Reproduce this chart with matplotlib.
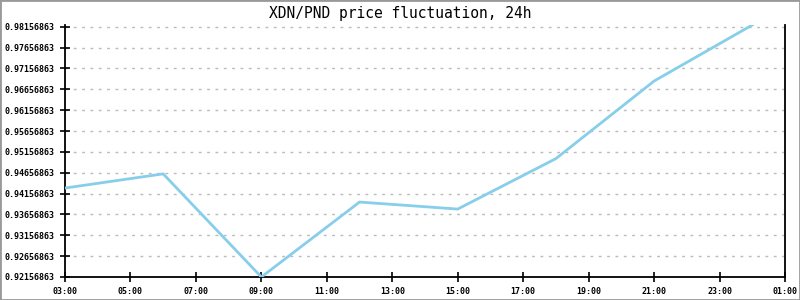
import matplotlib
matplotlib.use("Agg")
import matplotlib.pyplot as plt
from matplotlib.patches import Rectangle

# hours since midnight of the first day (24 = next midnight)
hours = [3, 6, 9, 12, 15, 18, 21, 24]
price = [0.94290, 0.94630, 0.92156863, 0.93954, 0.93786, 0.94996, 0.96856, 0.98200]

tick_hours = list(range(3, 26, 2))
tick_labels = [f"{h % 24:02d}:00" for h in tick_hours]
ytick_vals = [0.92156863 + 0.005 * i for i in range(13)]
ytick_labels = [f"{v:.8f}" for v in ytick_vals]

fig = plt.figure(figsize=(8, 3), dpi=100)
ax = fig.add_axes([65 / 800, 23 / 300, 720 / 800, 252 / 300])

ax.plot(hours, price, color="#87CEEB", linewidth=2, solid_joinstyle="miter", zorder=3)

ax.set_xlim(3, 25)
ax.set_ylim(min(price), max(price))
ax.set_xticks(tick_hours)
ax.set_xticklabels(tick_labels)
ax.set_yticks(ytick_vals)
ax.set_yticklabels(ytick_labels)

mono = dict(family="DejaVu Sans Mono", weight="bold", size=6)
for lab in ax.get_xticklabels() + ax.get_yticklabels():
    lab.set_fontproperties(matplotlib.font_manager.FontProperties(**mono))

ax.tick_params(direction="inout", length=7, width=1.2, color="black", pad=4)
ax.grid(axis="y", color="#bbbbbb", linestyle=(0, (2, 4)), linewidth=1)
ax.set_axisbelow(True)

for side in ("left", "bottom", "right"):
    ax.spines[side].set_color("black")
    ax.spines[side].set_linewidth(1.3)
ax.spines["top"].set_visible(False)

fig.text(0.5, 0.955, "XDN/PND price fluctuation, 24h", ha="center", va="center",
         family="DejaVu Sans Mono", fontsize=10.5)

fig.patches.append(Rectangle((0, 0), 1, 1, transform=fig.transFigure, fill=False,
                             edgecolor="#999999", linewidth=2))

fig.savefig("out.png", dpi=100)
